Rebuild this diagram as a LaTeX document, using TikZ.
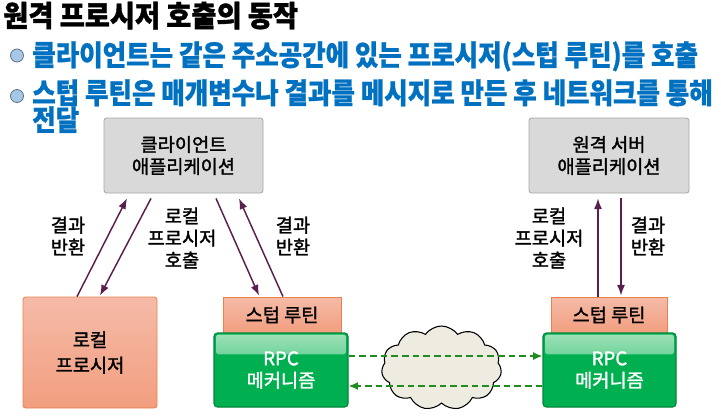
\documentclass[tikz,border=0pt]{standalone}
\usepackage{fontspec}
\setmainfont{Noto Sans CJK KR}[FakeBold=1.6]
\newfontfamily\krhead{Noto Sans CJK KR}[FakeStretch=0.89,FakeBold=0.8]
\newfontfamily\krtitle{Noto Sans CJK KR}[FakeStretch=0.93,FakeBold=1.2]
\usetikzlibrary{arrows.meta,calc,shapes.symbols}
\definecolor{headblue}{HTML}{0070C0}
\definecolor{bulfill}{HTML}{A7C7E7}
\definecolor{bulline}{HTML}{5F7388}
\definecolor{grayfill}{HTML}{D9D9D9}
\definecolor{grayline}{HTML}{A6A6A6}
\definecolor{salmontop}{HTML}{F5BBA8}
\definecolor{salmonbot}{HTML}{F29E7F}
\definecolor{salmonline}{HTML}{E9814F}
\definecolor{rpcgreen}{HTML}{00B050}
\definecolor{rpclight}{HTML}{A0E2BA}
\definecolor{rpcline}{HTML}{00873A}
\definecolor{arrowcol}{HTML}{5A1F4F}
\definecolor{dashgreen}{HTML}{1E8C1E}
\definecolor{cloudfill}{HTML}{EEECE1}
\begin{document}
\begin{tikzpicture}[x=0.75pt,y=-0.75pt,
  head/.style={inner sep=0pt,anchor=base west,font=\krtitle\bfseries\fontsize{22}{26}\selectfont},
  bul/.style={inner sep=0pt,anchor=base west,text=headblue,font=\krhead\bfseries\fontsize{21.5}{26}\selectfont},
  bulletdot/.style={circle,draw=bulline,fill=bulfill,line width=0.6pt,minimum size=13*0.75pt,inner sep=0pt},
  txt/.style={align=center,font=\fontsize{14}{16.5}\selectfont},
  graybox/.style={txt,draw=grayline,fill=grayfill,rounded corners=2pt,inner sep=0pt,line width=0.6pt},
  salmonbox/.style={txt,draw=salmonline,top color=salmontop,bottom color=salmonbot,inner sep=0pt,line width=0.6pt},
  rpcbox/.style={txt,text=white,draw=rpcline,fill=rpcgreen,rounded corners=2.5pt,inner sep=0pt,line width=0.8pt,
    path picture={\shade[top color=rpclight,bottom color=rpcgreen,rounded corners=2pt]
      ([xshift=1.5pt,yshift=-1.2pt]path picture bounding box.north west) rectangle
      ([xshift=-1.5pt,yshift=-16pt]path picture bounding box.north east);}},
  conn/.style={draw=arrowcol,line width=1.1pt,-{Latex[length=8pt,width=6pt]}},
  netlink/.style={draw=dashgreen,line width=1.2pt,dash pattern=on 5pt off 3pt,-{Latex[length=7pt,width=6pt]}},
  lbl/.style={txt,inner sep=0pt}
]
\useasboundingbox (0,0) rectangle (721,419);

% header
\node[head] (title) at (3,26.5) {원격 프로시저 호출의 동작};
\node[bulletdot] (b1) at (17,55.5) {};
\node[bul] (l1) at (32,65.5) {클라이언트는 같은 주소공간에 있는 프로시저(스텁 루틴)를 호출};
\node[bulletdot] (b2) at (17,96) {};
\node[bul] (l2) at (32,103.5) {스텁 루틴은 매개변수나 결과를 메시지로 만든 후 네트워크를 통해};
\node[bul] (l3) at (32,130.5) {전달};

% boxes
\node[graybox,minimum width=159*0.75pt,minimum height=75*0.75pt] (client) at (183.5,155.5) {클라이언트\\애플리케이션};
\node[graybox,minimum width=160*0.75pt,minimum height=75*0.75pt] (server) at (609,155.5) {원격 서버\\애플리케이션};
\node[salmonbox,rounded corners=2pt,minimum width=134*0.75pt,minimum height=111*0.75pt,font=\fontsize{14}{19}\selectfont] (lp) at (90,352.5) {로컬\\프로시저};
\node[salmonbox,minimum width=118*0.75pt,minimum height=36*0.75pt] (stubL) at (282,315) {스텁 루틴};
\node[salmonbox,minimum width=116*0.75pt,minimum height=36*0.75pt] (stubR) at (609,315) {스텁 루틴};
\node[rpcbox,minimum width=134*0.75pt,minimum height=74*0.75pt] (rpcL) at (281,370) {RPC\\메커니즘};
\node[rpcbox,minimum width=133*0.75pt,minimum height=74*0.75pt] (rpcR) at (609.5,370) {RPC\\메커니즘};

% cloud
\node[cloud,cloud puffs=11,cloud puff arc=110,aspect=1.45,draw=black,fill=cloudfill,line width=0.8pt,
  minimum width=120*0.75pt,minimum height=84*0.75pt,inner sep=0pt] (net) at (441.5,368) {};

% labels
\node[lbl] (lab1) at (68,236) {결과\\반환};
\node[lbl] (lab2) at (182,238) {로컬\\프로시저\\호출};
\node[lbl] (lab3) at (293,236) {결과\\반환};
\node[lbl] (lab4) at (549,238) {로컬\\프로시저\\호출};
\node[lbl] (lab5) at (648,236) {결과\\반환};

% connectors
\draw[conn] ($(lp.north)+(-13,0)$) -- ($(client.south)+(-56.5,5)$);
\draw[conn] ($(client.south)+(-32.5,5)$) -- ($(lp.north)+(10,-1)$);
\draw[conn] ($(client.south)+(32.5,5)$) -- ($(stubL.north)+(-23,-1)$);
\draw[conn] ($(stubL.north)+(1,0)$) -- ($(client.south)+(55.5,5)$);
\draw[conn] ($(stubR.north)+(-11,0)$) -- ($(server.south)+(-11,5)$);
\draw[conn] ($(server.south)+(12,5)$) -- ($(stubR.north)+(12,-1)$);

\draw[netlink] ($(rpcL.east)+(0,-14)$) -- ($(rpcR.west)+(0,-14)$);
\draw[netlink] ($(rpcR.west)+(0,16)$) -- ($(rpcL.east)+(0,16)$);
\end{tikzpicture}
\end{document}
